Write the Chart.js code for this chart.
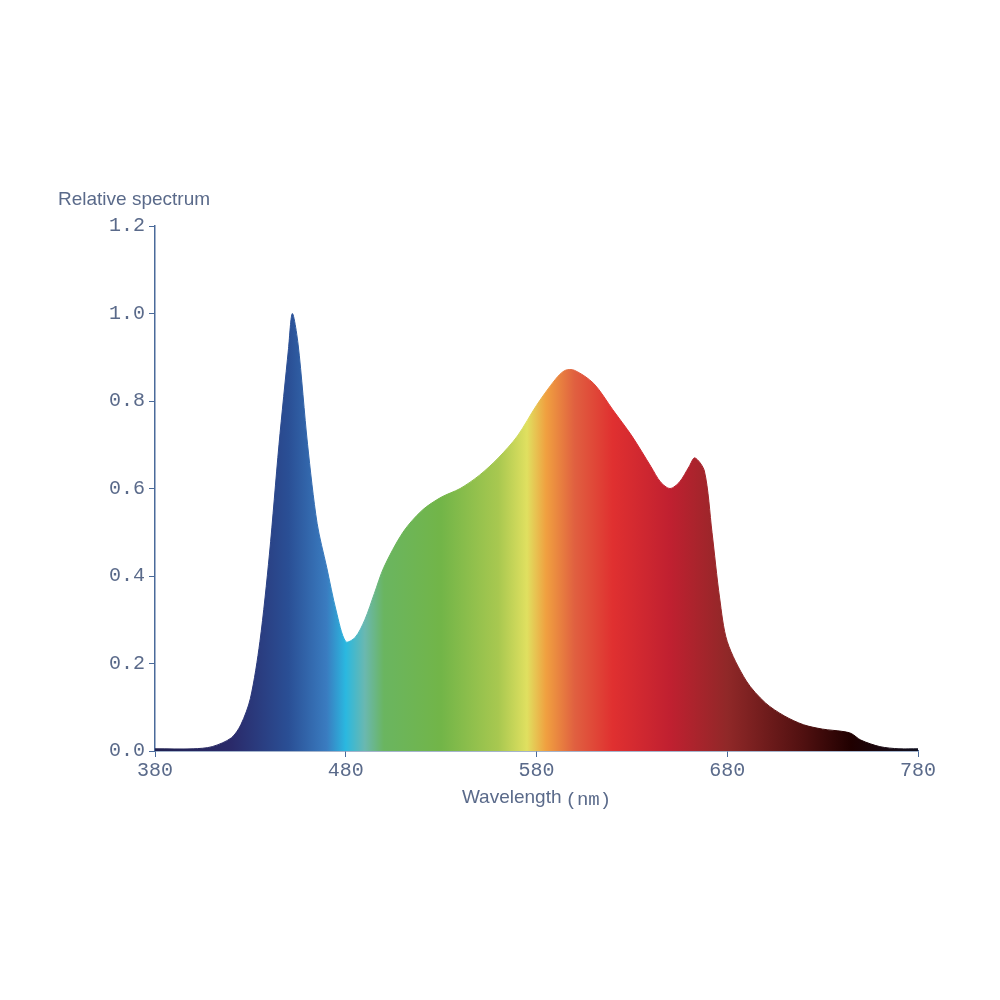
<!DOCTYPE html>
<html><head><meta charset="utf-8">
<script src="https://cdn.jsdelivr.net/npm/chart.js@4"></script>
<style>body{margin:0;background:#fff}#wrap{width:1000px;height:1000px}</style>
</head><body><div id="wrap"><canvas id="c"></canvas></div>
<script>
// wavelength (nm) and relative intensity
const wavelengths = [380,400,410,420,425,430,435,440,445,450,452,455,460,465,470,475,480,485,490,495,500,510,520,530,540,550,560,570,580,590,595,600,610,620,630,640,645,650,655,660,663,668,672,676,680,690,700,710,720,730,740,745,750,760,770,780];
const intensity = [0.005,0.005,0.01,0.03,0.06,0.12,0.25,0.45,0.7,0.92,1.0,0.93,0.7,0.52,0.42,0.32,0.25,0.26,0.3,0.36,0.42,0.5,0.55,0.58,0.6,0.63,0.67,0.72,0.79,0.85,0.87,0.87,0.84,0.78,0.72,0.65,0.615,0.6,0.615,0.65,0.67,0.64,0.5,0.35,0.25,0.16,0.11,0.08,0.06,0.05,0.045,0.04,0.025,0.01,0.005,0.005];
const xTicks = [380,480,580,680,780];
// spectral colour stops
const stopNm = [380,420,450,470,480,490,500,530,560,575,585,600,620,650,680,720,745,780];
const stopColor = ['#202050','#2a2a6a','#2a4f95','#3a7cc0','#2ab8e0','#6ab8b0','#6ab560','#72b548','#a8c850','#e0e060','#f0a040','#e06040','#e03030','#c02030','#902828','#501010','#200000','#101020'];

const axisColor = '#4a6a9a';
const textColor = '#5a6a8a';
const mono = "'Liberation Mono', 'DejaVu Sans Mono', monospace";
const sans = "'Liberation Sans', Arial, sans-serif";

function spectrumFill(context) {
  const chart = context.chart;
  const area = chart.chartArea;
  if (!area) return '#888';
  const xs = chart.scales.x;
  const g = chart.ctx.createLinearGradient(area.left, 0, area.right, 0);
  stopNm.forEach((nm, i) => {
    g.addColorStop((xs.getPixelForValue(nm) - area.left) / (area.right - area.left), stopColor[i]);
  });
  return g;
}

const axisLabels = {
  id: 'axisLabels',
  afterDraw(chart) {
    const ctx = chart.ctx;
    ctx.save();
    ctx.fillStyle = textColor;
    ctx.textBaseline = 'middle';
    ctx.font = '19px ' + sans;
    ctx.fillText('Relative spectrum', 58, 200);
    // x title: sans word + mono unit, centred under the axis
    const word = 'Wavelength', unit = '(nm)';
    const ww = ctx.measureText(word).width;
    ctx.font = '19px ' + mono;
    const uw = ctx.measureText(unit).width;
    const cx = (chart.chartArea.left + chart.chartArea.right) / 2;
    let x0 = cx - (ww + 4 + uw) / 2;
    ctx.font = '19px ' + sans;
    ctx.fillText(word, x0, 798);
    ctx.font = '19px ' + mono;
    ctx.fillText(unit, x0 + ww + 4, 800);
    ctx.restore();
  }
};

new Chart(document.getElementById('c'), {
  type: 'line',
  data: {
    datasets: [{
      data: wavelengths.map((w, i) => ({x: w, y: intensity[i]})),
      fill: 'origin',
      backgroundColor: spectrumFill,
      borderColor: spectrumFill,
      borderWidth: 1,
      pointRadius: 0,
      tension: 0.3
    }]
  },
  options: {
    responsive: true,
    maintainAspectRatio: false,
    animation: false,
    layout: { padding: { top: 226, right: 82, left: 0, bottom: 0 } },
    plugins: { legend: { display: false }, tooltip: { enabled: false } },
    scales: {
      x: {
        type: 'linear', min: 380, max: 780,
        afterBuildTicks: (s) => { s.ticks = xTicks.map(v => ({value: v})); },
        afterFit: (s) => { s.height = 249; },
        border: { color: axisColor, width: 1.5 },
        grid: { drawOnChartArea: false, color: axisColor, tickLength: 6 },
        ticks: { color: textColor, font: { family: mono, size: 20 }, padding: 2, maxRotation: 0 }
      },
      y: {
        min: 0, max: 1.2,
        afterFit: (s) => { s.width = 155; },
        border: { color: axisColor, width: 1.5 },
        grid: { drawOnChartArea: false, color: axisColor, tickLength: 6 },
        ticks: { stepSize: 0.2, color: textColor, font: { family: mono, size: 20 }, padding: 4,
                 callback: (v) => v.toFixed(1) }
      }
    }
  },
  plugins: [axisLabels]
});
</script></body></html>
